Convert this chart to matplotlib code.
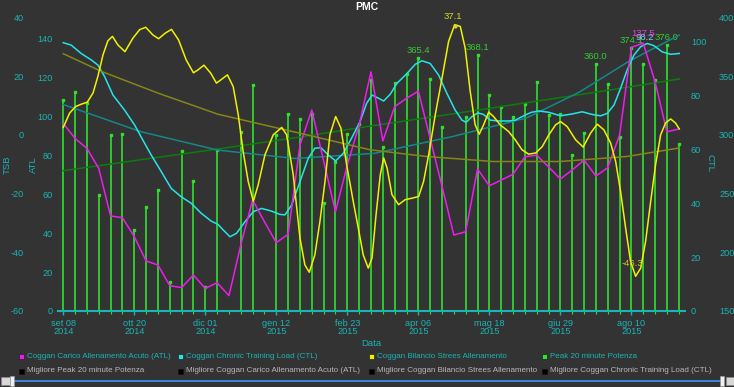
import numpy as np
import matplotlib
matplotlib.use('Agg')
import matplotlib.pyplot as plt
from matplotlib.patches import Rectangle

# ---------------- data ----------------
tick_days = [0, 42, 84, 126, 168, 210, 252, 294, 336]
tick_labels = ['set 08\n2014', 'ott 20\n2014', 'dic 01\n2014', 'gen 12\n2015', 'feb 23\n2015',
               'apr 06\n2015', 'mag 18\n2015', 'giu 29\n2015', 'ago 10\n2015']

# weekly series (days since 2014-09-08)
week_days = [0, 7, 14, 21, 28, 35, 42, 49, 56, 63, 70, 77, 84, 91, 98, 105, 112, 119, 126, 133,
             140, 147, 154, 161, 168, 175, 182, 189, 196, 203, 210, 217, 224, 231, 238, 245, 252,
             259, 266, 273, 280, 287, 294, 301, 308, 315, 322, 329, 336, 343, 350, 357, 364]
peak20 = [329.3, 336.7, 326.8, 249.0, 299.8, 300.4, 218.7, 238.3, 253.0, 174.4,
          286.4, 261.0, 170.2, 287.0, np.nan, 302.0, 342.4, np.nan, 299.8, 317.4,
          313.7, 317.7, 241.7, 277.0, 300.7, 309.5, 346.6, 290.0, 343.8, 351.4,
          365.4, 347.2, 306.2, np.nan, 315.4, 368.1, 333.9, 323.9, 314.9, 326.0,
          344.7, 316.8, 317.4, 282.5, 301.5, 360.0, 343.0, 298.4, 374.1, 360.0,
          346.9, 376.0, 292.2]
atl = [96.3, 88.6, 83.5, 73.2, 48.8, 47.9, 38.2, 25.7, 23.6, 13.0,
       12.0, 18.5, 11.6, 14.5, 7.9, 33.9, 57.0, 45.8, 35.1, 39.4,
       85.2, 103.2, 77.0, 51.0, 75.0, 95.5, 122.8, 87.3, 104.9, 109.2,
       112.9, 88.5, 64.0, 39.0, 40.7, 72.9, 64.3, 67.2, 70.2, 79.2,
       80.0, 74.0, 67.8, 72.4, 77.5, 69.3, 73.6, 90.3, 135.4, 137.5,
       117.7, 92.0, 93.4]

tsb_days = [0, 3.8, 7.3, 10.6, 14.2, 17.6, 20.5, 23.5, 26.4, 29.1, 32.3, 36.5, 41.2, 45.2, 48.8,
            53, 56.4, 60.3, 64, 68.2, 72.7, 77, 79.7, 83.2, 87.2, 90.6, 93.9, 97.1, 100.5, 103.5,
            106.4, 109.4, 112.4, 115.3, 119.3, 124.2, 129.2, 132.1, 136, 140, 142.9, 145.5, 148.8,
            151.8, 154.8, 157.7, 161.1, 164.2, 167.6, 171.5, 174.5, 177.4, 180.4, 182.6, 185,
            187.5, 189.5, 191.5, 194.4, 198.3, 202.2, 206.2, 210.2, 213.1, 216.1, 220, 224, 227.9,
            231.5, 234.8, 237.7, 240.7, 243.6, 246, 248.6, 251.6, 254.5, 258.4, 263.4, 267.3,
            271.3, 275.2, 279.4, 283.3, 287.2, 291.2, 294.1, 298, 303, 307.5, 311.9, 315.8, 319.7,
            323.7, 326.7, 329.6, 332.6, 335.5, 338.5, 341.5, 344.4, 347.4, 350.3, 353.3, 356.2,
            359.2, 362.1, 364.3]
tsb = [2.5, 7.4, 9.6, 10.4, 11.1, 14.2, 19.9, 27.2, 32.0, 33.5, 30.6, 28.3, 32.9, 35.8, 36.6,
       34.0, 32.7, 34.6, 35.9, 32.3, 25.5, 21.1, 22.1, 23.7, 21.0, 17.6, 19.0, 20.4, 16.4, 6.8,
       -5.7, -15.9, -22.7, -17.0, -6.8, 0.0, 2.5, 0.0, -13.6, -35.2, -44.3, -46.8, -40.9,
       -29.5, -15.9, 0.0, 6.2, 2.3, -10.2, -22.7, -31.8, -40.9, -45.4, -42.0, -27.2,
       -13.6, -7.9, -11.3, -20.4, -23.8, -22.1, -21.6, -21.0, -15.9, -6.8, 6.8, 19.3, 31.8,
       37.5, 36.9, 29.5, 14.7, 3.4, 0.2, 3.4, 7.7, 6.2, 3.4, 1.1, -1.7,
       -5.1, -6.6, -6.2, -4.0, 0.0, 3.4, 4.5, 2.8, -1.7, -4.2, 0.6, 3.6, 1.7,
       -2.8, -9.1, -19.3, -31.8, -43.1, -48.2, -45.4, -36.3, -22.7, -10.2, 0.0, 4.0,
       5.4, 4.0, 2.0]

ctl_days = [0, 4.7, 10.6, 16.6, 20.5, 24.5, 29.4, 36.3, 42.2, 47.1, 52, 58, 63.9, 69.8, 75.7,
            81.6, 87.5, 91.5, 93.7, 98.6, 102.5, 107.5, 112.4, 117.3, 123.2, 128.1, 131.1, 135.1,
            140, 144.9, 148.8, 152.4, 156.7, 161.1, 165.6, 170.5, 175.5, 179.4, 182.6, 186.5,
            189.5, 193.4, 197.3, 203.3, 208.2, 212.1, 217, 222, 226.9, 231.8, 235.8, 238.3,
            241.7, 245.2, 248.6, 252.5, 257.5, 263.4, 267.3, 273.2, 276.8, 281.3, 287.2, 294.1,
            301, 306.9, 312.8, 317.8, 321.7, 325.7, 329.6, 333.5, 337.5, 341.5, 345.4, 349.3,
            354.2, 359.2, 364.3]
ctl = [99.4, 98.5, 95.4, 93.0, 91.1, 86.8, 80.0, 74.4, 68.9, 63.3, 57.8, 51.6, 45.4, 42.3, 39.9,
       36.2, 33.3, 32.1, 30.6, 27.5, 28.8, 33.1, 36.8, 38.0, 37.0, 35.8, 35.6, 39.3, 47.9, 56.6,
       60.3, 60.5, 57.8, 55.6, 58.4, 64.0, 70.1, 76.9, 80.0, 78.8, 77.8, 80.3, 84.3, 88.0, 91.4,
       92.7, 91.7, 87.4, 80.6, 74.4, 70.7, 69.9, 72.0, 73.4, 72.8, 70.7, 70.4, 70.4, 70.7, 72.6,
       73.6, 74.1, 73.6, 72.3, 73.0, 73.8, 72.8, 72.3, 73.2, 76.3, 82.5, 89.3, 94.8, 97.9, 99.1,
       98.3, 96.0, 95.1, 95.4]

# trend lines
tsb_trend_days = [0, 22.5, 56, 91.5, 143.9, 181.4, 214.9, 254.3, 293.7, 333.2, 364.3]
tsb_trend = [27.6, 21.6, 14.2, 7.0, 0.0, -5.1, -7.4, -9.1, -9.1, -7.4, -4.5]
ctl_trend_days = [0, 46, 91.5, 137, 184, 230, 274, 305, 334.5, 364.3]
ctl_trend = [76.5, 66.4, 59.6, 56.5, 58.4, 64.6, 71.5, 81.0, 92.5, 102.2]
pp_trend_days = [0, 44.5, 91.5, 137.3, 184.3, 229.9, 275.4, 319.7, 364.3]
pp_trend = [269.4, 278.5, 287.9, 297.5, 308.0, 317.7, 327.6, 337.3, 347.5]

legend_row1 = ['Coggan Carico Allenamento Acuto (ATL)', 'Coggan Chronic Training Load (CTL)',
               'Coggan Bilancio Strees Allenamento', 'Peak 20 minute Potenza']
legend_row2 = ['Migliore Peak 20 minute Potenza', 'Migliore Coggan Carico Allenamento Acuto (ATL)',
               'Migliore Coggan Bilancio Strees Allenamento', 'Migliore Coggan Chronic Training Load (CTL)']

# ---------------- style ----------------
BG = '#333333'
TEAL = '#1ab4b4'
GREEN = '#2fe02f'
CYAN = '#26e4e8'
MAGENTA = '#ee1cee'
YELLOW = '#f2f200'
plt.rcParams['font.family'] = ['Liberation Sans', 'DejaVu Sans']
plt.rcParams['axes.unicode_minus'] = False

W, H = 734, 387
def fx(x):
    return x / W
def fy(y):
    return 1 - y / H

fig = plt.figure(figsize=(W / 100, H / 100), dpi=100, facecolor=BG)
L, R, T, B = 58, 685, 17.3, 311
ax_pp = fig.add_axes([fx(L), fy(B), (R - L) / W, (B - T) / H])
ax_pp.set_facecolor(BG)
ax_ctl = ax_pp.twinx()
ax_atl = ax_pp.twinx()
ax_tsb = ax_pp.twinx()
for a in (ax_pp, ax_ctl, ax_atl, ax_tsb):
    for s in a.spines.values():
        s.set_visible(False)
    a.set_xlim(-3.1, 367.7)
ax_pp.spines['bottom'].set_visible(True)
ax_pp.spines['bottom'].set_color(TEAL)
ax_pp.spines['bottom'].set_linewidth(1.5)

ax_pp.set_ylim(150, 400)
ax_ctl.set_ylim(0, 108.8)
ax_atl.set_ylim(0, 150.8)
ax_tsb.set_ylim(-60, 40)

ax_pp.yaxis.tick_right()
ax_pp.set_yticks([150, 200, 250, 300, 350, 400])
ax_pp.tick_params(axis='y', length=0, pad=24.5, labelcolor=TEAL, labelsize=6.6)
ax_ctl.set_yticks([0, 20, 40, 60, 80, 100])
ax_ctl.tick_params(axis='y', length=0, pad=4.3, labelcolor=TEAL, labelsize=6.6)
ax_atl.yaxis.tick_left()
ax_atl.set_yticks([0, 20, 40, 60, 80, 100, 120, 140])
ax_atl.tick_params(axis='y', length=0, pad=3.6, labelcolor=TEAL, labelsize=6.6)
ax_tsb.yaxis.tick_left()
ax_tsb.set_yticks([-60, -40, -20, 0, 20, 40])
ax_tsb.tick_params(axis='y', length=0, pad=24.5, labelcolor=TEAL, labelsize=6.6)

ax_pp.set_xticks(tick_days)
ax_pp.set_xticklabels(tick_labels)
ax_pp.set_xticks(week_days, minor=True)
ax_pp.tick_params(axis='x', which='major', colors=TEAL, length=3, width=1, pad=2.5, labelsize=6.6)
ax_pp.tick_params(axis='x', which='minor', color=GREEN, length=2.5, width=0.8)
for tl in ax_pp.get_xticklabels():
    tl.set_linespacing(0.95)

# bars (peak 20 min power)
wd = np.array(week_days, dtype=float)
pp = np.array(peak20, dtype=float)
m = ~np.isnan(pp)
ax_pp.vlines(wd[m], 150, pp[m], color=GREEN, lw=1.2)
ax_pp.plot(wd[m], pp[m], 's', ms=1.6, color=GREEN)
ax_pp.plot(pp_trend_days, pp_trend, color='#0c7c0c', lw=1.1)

ax_ctl.plot(ctl_trend_days, ctl_trend, color='#14878a', lw=1.1)
ax_ctl.plot(ctl_days, ctl, color=CYAN, lw=1.1)
ax_atl.plot(week_days, atl, color=MAGENTA, lw=1.1)
ax_tsb.plot(tsb_trend_days, tsb_trend, color='#85851a', lw=1.1)
ax_tsb.plot(tsb_days, tsb, color=YELLOW, lw=1.1)

# annotations of maxima/minima
ann_kw = dict(textcoords='offset points', ha='center', va='center', fontsize=6.8)
for d, v in [(210, 365.4), (245, 368.1), (315, 360.0), (336, 374.1), (357, 376.0)]:
    ax_pp.annotate(f'{v:.1f}', xy=(d, v), xytext=(0, 5.5), color='#33cc33', **ann_kw)
ax_tsb.annotate('37.1', xy=(231.5, 37.1), xytext=(-1, 6.5), color='#d6d62a', **ann_kw)
ax_tsb.plot([231.5], [37.1], 'o', ms=2, color='#d6d62a')
ax_tsb.annotate('-46.3', xy=(336.3, -46.3), xytext=(0, 5.5), color='#c8c828', **ann_kw)
ax_ctl.annotate('98.2', xy=(345, 98.2), xytext=(-1.5, 5.8), color='#7fd0f0', **ann_kw)
ax_atl.annotate('137.5', xy=(343, 137.5), xytext=(0, 7), color='#e040e0', **ann_kw)

# axis titles
fig.text(fx(7), fy(165), 'TSB', rotation=90, ha='center', va='center', color=TEAL, fontsize=6.8)
fig.text(fx(33), fy(165), 'ATL', rotation=90, ha='center', va='center', color=TEAL, fontsize=6.8)
fig.text(fx(710), fy(163), 'CTL', rotation=270, ha='center', va='center', color=TEAL, fontsize=6.8)
fig.text(fx(366.5), fy(7), 'PMC', ha='center', va='center', color='white', fontsize=7.5, weight='bold')
fig.text(fx(371), fy(343.5), 'Data', ha='center', va='center', color=TEAL, fontsize=6.8)

# legend
sq_x = [21, 180.5, 371, 544.3]
row1_colors = [MAGENTA, CYAN, YELLOW, GREEN]
LEG_FS = 5.8
for xs, lab, c in zip(sq_x, legend_row1, row1_colors):
    fig.patches.append(Rectangle((fx(xs - 2.5), fy(358.5)), 5 / W, 5 / H, transform=fig.transFigure,
                                 facecolor=c, edgecolor='#222222', lw=0.5))
    fig.text(fx(xs + 5.7), fy(356), lab, ha='left', va='center', color=TEAL, fontsize=LEG_FS)
for xs, lab in zip(sq_x, legend_row2):
    fig.patches.append(Rectangle((fx(xs - 2.5), fy(373.5)), 5 / W, 5 / H, transform=fig.transFigure,
                                 facecolor='#000000', edgecolor='#111111', lw=0.5))
    fig.text(fx(xs + 5.7), fy(371), lab, ha='left', va='center', color='#b8b8b8', fontsize=LEG_FS)

# scroll bar
fig.patches.append(Rectangle((fx(12), fy(382)), (721 - 12) / W, 2 / H, transform=fig.transFigure,
                             facecolor='#3a86d6', edgecolor='none'))
for x0, x1 in [(1.5, 9.5), (725.5, 733.5)]:
    fig.patches.append(Rectangle((fx(x0), fy(385)), (x1 - x0) / W, 8 / H, transform=fig.transFigure,
                                 facecolor='#d8d8d8', edgecolor='#888888', lw=0.5))
for x0 in [9.5, 719.5]:
    fig.patches.append(Rectangle((fx(x0), fy(386)), 4 / W, 10 / H, transform=fig.transFigure,
                                 facecolor='#f0f0f0', edgecolor='#999999', lw=0.5))

fig.savefig('out.png', dpi=100, facecolor=BG)
